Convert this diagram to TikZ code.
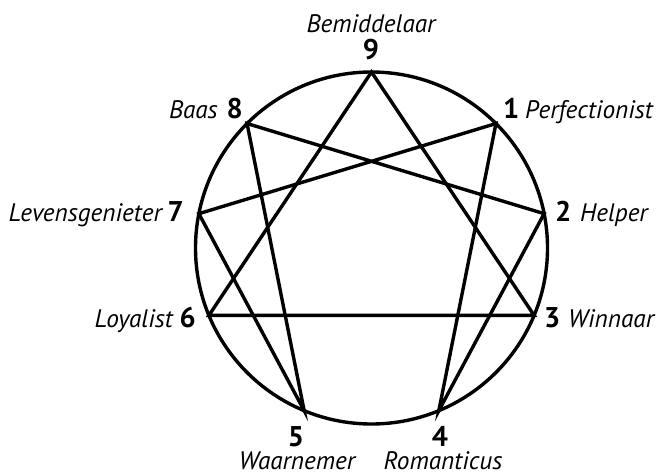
\documentclass[tikz,border=0pt]{standalone}
\usepackage{fontspec}
\setmainfont{PT Sans}
\usetikzlibrary{calc}
\begin{document}
\begin{tikzpicture}[x=1pt,y=-1pt,
  edge/.style={line width=3.4pt, line join=miter, line cap=butt},
  ring/.style={line width=3.4pt},
  num/.style={inner sep=0pt, text depth=0pt, font=\fontsize{28.5}{28.5}\selectfont\bfseries},
  lbl/.style={inner sep=0pt, text depth=0pt, font=\fontsize{25.3}{25.3}\selectfont\itshape}]
\useasboundingbox (0,0) rectangle (660,473);
\coordinate (c) at (371.5,248);
\coordinate (p9) at ($(c)+(90:176pt)$);
\coordinate (p1) at ($(c)+(45:176pt)$);
\coordinate (p2) at ($(c)+(11.25:176pt)$);
\coordinate (p3) at ($(c)+(-22.5:176pt)$);
\coordinate (p4) at ($(c)+(-67.5:176pt)$);
\coordinate (p5) at ($(c)+(-112.5:176pt)$);
\coordinate (p6) at ($(c)+(202.5:176pt)$);
\coordinate (p7) at ($(c)+(168.75:176pt)$);
\coordinate (p8) at ($(c)+(135:176pt)$);
\draw[ring] (c) circle[radius=176pt];
\draw[edge] (p9) -- (p3) -- (p6) -- cycle;
\draw[edge] (p1) -- (p4) -- (p2) -- (p8) -- (p5) -- (p7) -- cycle;
% labels
\node[lbl, anchor=base] (t9) at (371,33) {Bemiddelaar};
\node[num, anchor=base] (n9) at (371,60) {9};
\node[num, anchor=base east] (n8) at (243,119) {8};
\node[lbl, anchor=base east] (t8) at (218,119) {Baas};
\node[num, anchor=base west] (n1) at (503,119) {1};
\node[lbl, anchor=base west] (t1) at (525,119) {Perfectionist};
\node[num, anchor=base east] (n7) at (184,221) {7};
\node[lbl, anchor=base east] (t7) at (162,221) {Levensgenieter};
\node[num, anchor=base west] (n2) at (555,221) {2};
\node[lbl, anchor=base west] (t2) at (580,221) {Helper};
\node[num, anchor=base east] (n6) at (196,327) {6};
\node[lbl, anchor=base east] (t6) at (173,327) {Loyalist};
\node[num, anchor=base west] (n3) at (544,327) {3};
\node[lbl, anchor=base west] (t3) at (568,327) {Winnaar};
\node[num, anchor=base] (n5) at (296,446) {5};
\node[lbl, anchor=base] (t5) at (297,469) {Waarnemer};
\node[num, anchor=base] (n4) at (440,446) {4};
\node[lbl, anchor=base] (t4) at (443,469) {Romanticus};
\end{tikzpicture}
\end{document}
